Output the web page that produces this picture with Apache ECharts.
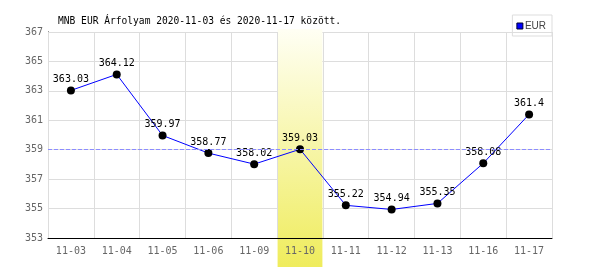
<!DOCTYPE html>
<html><head><meta charset="utf-8">
<script src="https://cdn.jsdelivr.net/npm/echarts@6/dist/echarts.min.js"></script>
<style>html,body{margin:0;padding:0;background:#fff}#c{width:600px;height:270px}</style>
</head><body><div id="c"></div>
<script>
const categories = ['11-03','11-04','11-05','11-06','11-09','11-10','11-11','11-12','11-13','11-16','11-17'];
const eurValues = [363.03,364.12,359.97,358.77,358.02,359.03,355.22,354.94,355.35,358.08,361.4];
const yTicks = [353,355,357,359,361,363,365,367];
const referenceLine = 359;
const highlightCategory = '11-10';
const titleText = 'MNB EUR Árfolyam 2020-11-03 és 2020-11-17 között.';

const BASE = yTicks[0];
const shifted = eurValues.map(v => +(v - BASE).toFixed(4));
const mono = 'DejaVu Sans Mono';

const chart = echarts.init(document.getElementById('c'), null, {renderer:'canvas'});
chart.setOption({
  animation:false,
  backgroundColor:'#fff',
  title:{text:titleText,left:53,top:11,textStyle:{fontFamily:mono,fontSize:9.6,fontWeight:'normal',color:'#000'}},
  legend:{data:[{name:'EUR',itemStyle:{color:'#0000ff',borderColor:'#000033',borderWidth:1}}],right:48,top:15,orient:'vertical',borderColor:'#ddd',borderWidth:1,padding:[6,6,5,4],
    itemWidth:6,itemHeight:6,itemGap:0,icon:'rect',textStyle:{fontFamily:'Liberation Sans',fontSize:10,color:'#444',padding:[0,0,0,-3]}},
  grid:{left:48,right:48,top:32,bottom:32,containLabel:false},
  xAxis:{type:'category',data:categories,boundaryGap:true,z:2,
    axisLine:{lineStyle:{color:'#000',width:1}},axisTick:{show:false},
    axisLabel:{fontFamily:mono,fontSize:10,color:'#666',margin:8},
    splitLine:{show:true,lineStyle:{color:'#ddd',width:1}}},
  yAxis:{type:'value',min:0,max:yTicks[yTicks.length-1]-BASE,interval:2,z:0,
    axisLine:{show:true,lineStyle:{color:'#000',width:1}},axisTick:{show:false},
    axisLabel:{fontFamily:mono,fontSize:10,color:'#666',margin:5,formatter:v=>String(v+BASE)},
    splitLine:{show:true,lineStyle:{color:'#ddd',width:1}}},
  series:[
    {name:'ref',type:'line',data:shifted,z:0,showSymbol:false,silent:true,lineStyle:{opacity:0},
     markLine:{silent:true,symbol:'none',label:{show:false},lineStyle:{color:'#8c8cff',type:[4,2],width:1,opacity:1},
       data:[{yAxis:referenceLine-BASE}]}},
    {name:'EUR',type:'line',data:shifted,z:3,color:'#0000ff',
     lineStyle:{color:'#0000ff',width:1},symbol:'circle',symbolSize:8,
     itemStyle:{color:'#000'},
     label:{show:true,position:'top',distance:2,fontFamily:mono,fontSize:10,color:'#000',
       formatter:p=>String(eurValues[p.dataIndex])}}
  ]
});

const idx = categories.indexOf(highlightCategory);
const cx = chart.convertToPixel({xAxisIndex:0}, idx);
const w = (chart.convertToPixel({xAxisIndex:0},1) - chart.convertToPixel({xAxisIndex:0},0));
const topY = chart.convertToPixel({yAxisIndex:0}, yTicks[yTicks.length-1]-BASE) - 3;
const botY = 267;
chart.setOption({graphic:[{type:'rect',z:1,silent:true,
  shape:{x:cx - w/2 + 0.5, y:topY, width:w - 1, height:botY-topY},
  style:{fill:new echarts.graphic.LinearGradient(0,0,0,1,[{offset:0,color:'#fffff4'},{offset:1,color:'#efec5c'}])}}]});
</script></body></html>
